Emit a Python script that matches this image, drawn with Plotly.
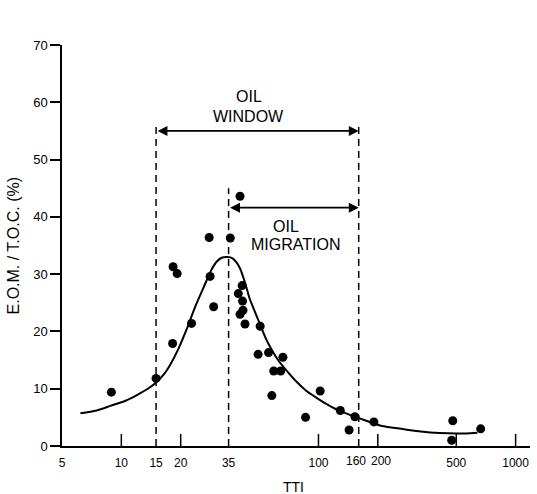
import math
import plotly.graph_objects as go

# ---- data ----
tti = [8.9, 15.0, 18.2, 18.3, 19.2, 22.7, 27.9, 28.2, 29.4, 35.7, 40.0, 41.0, 39.2,
       41.2, 41.4, 40.0, 42.4, 50.6, 49.4, 55.8, 59.3, 64.3, 66.0, 58.0, 102, 86,
       129, 153, 143, 191, 480, 474, 665]
eom_toc = [9.4, 11.8, 17.9, 31.3, 30.1, 21.4, 36.4, 29.6, 24.3, 36.3, 43.6, 28.0, 26.6,
           25.3, 23.7, 23.0, 21.3, 20.9, 16.0, 16.3, 13.1, 13.1, 15.5, 8.8, 9.6, 5.0,
           6.2, 5.1, 2.8, 4.2, 4.4, 1.0, 3.0]

curve_tti = [6.2, 7.5, 8.8, 10.5, 12.0, 13.5, 15.0, 16.5, 17.7, 19.5, 21.4, 23.5, 26.0,
             28.6, 30.5, 32.5, 34.7, 36.5, 38.3, 40.0, 41.4, 43.0, 44.7, 47.5, 50.2, 54,
             58.6, 63, 68.4, 77, 86.3, 97, 109, 125, 148, 175, 210, 250, 287, 340, 392,
             494, 560, 640]
curve_eom = [5.7, 6.2, 7.0, 7.9, 8.9, 9.9, 11.1, 12.6, 14.2, 17.0, 20.3, 24.0, 27.5,
             30.7, 32.2, 32.9, 33.0, 32.8, 32.1, 31.0, 29.6, 27.8, 25.8, 23.5, 21.5, 18.8,
             16.5, 14.8, 13.3, 11.3, 9.7, 8.5, 7.4, 6.3, 5.3, 4.4, 3.5, 3.1, 2.8, 2.5, 2.3,
             2.2, 2.2, 2.3]

x_tick_labels = [5, 10, 15, 20, 35, 100, 500, 1000]
x_tight_labels = [(160, -3), (200, 3)]   # crowded labels, nudged apart
x_tick_marks = [10, 20, 100, 200, 500, 1000]
y_ticks = [0, 10, 20, 30, 40, 50, 60, 70]

# boundaries (TTI) and their heights
window_start, window_end = 15, 160
migration_start = 35
window_line_top = 56.4
migration_line_top = 45.0
window_arrow_y = 55.0
migration_arrow_y = 41.6

FONT = "Liberation Sans, Arial, sans-serif"
TICKFONT = dict(family=FONT, size=12, color="black")

fig = go.Figure()

# dashed boundary lines
for xv, top in [(window_start, window_line_top), (window_end, window_line_top),
                (migration_start, migration_line_top)]:
    fig.add_trace(go.Scatter(x=[xv, xv], y=[0, top], mode="lines",
                             line=dict(color="black", width=1.5, dash="7px,5px"),
                             hoverinfo="skip", showlegend=False))

fig.add_trace(go.Scatter(x=curve_tti, y=curve_eom, mode="lines",
                         line=dict(color="black", width=2, shape="spline", smoothing=0.8),
                         showlegend=False))
fig.add_trace(go.Scatter(x=tti, y=eom_toc, mode="markers",
                         marker=dict(color="black", size=9), showlegend=False))

# inside tick marks on the x axis
for t in x_tick_marks:
    fig.add_shape(type="line", xref="x", yref="paper", x0=t, x1=t, y0=0, y1=12 / 401,
                  line=dict(color="black", width=1.5))

# crowded tick labels
for v, dx in x_tight_labels:
    fig.add_annotation(x=math.log10(v), y=0, xref="x", yref="paper", text=str(v),
                       showarrow=False, font=TICKFONT, xanchor="center", yanchor="top",
                       xshift=dx, yshift=-7, borderpad=0)

# arrows
for x0, x1, yv in [(window_start, window_end, window_arrow_y),
                   (migration_start, window_end, migration_arrow_y)]:
    fig.add_annotation(x=math.log10(x1), y=yv, ax=math.log10(x0), ay=yv,
                       xref="x", yref="y", axref="x", ayref="y", text="",
                       showarrow=True, arrowhead=2, arrowside="end+start",
                       arrowsize=1.1, arrowwidth=1.8, arrowcolor="black", standoff=0,
                       startstandoff=0)

labels = [("OIL", 44.3, 61.0), ("WINDOW", 44.3, 57.6),
          ("OIL", 68.8, 38.3), ("MIGRATION", 76.6, 35.1)]
for txt, xv, yv in labels:
    fig.add_annotation(x=math.log10(xv), y=yv, xref="x", yref="y", text=txt,
                       showarrow=False, font=dict(family=FONT, size=16, color="black"),
                       xanchor="center", yanchor="middle")

# axis titles
fig.add_annotation(x=-0.1026, y=0.5, xref="paper", yref="paper",
                   text="E.O.M. / T.O.C. (%)", textangle=-90, showarrow=False,
                   font=dict(family=FONT, size=16, color="black"),
                   xanchor="center", yanchor="middle")
fig.add_annotation(x=0.4936, y=-0.1022, xref="paper", yref="paper", text="TTI",
                   showarrow=False, font=dict(family=FONT, size=14, color="black"),
                   xanchor="center", yanchor="middle")

fig.update_layout(
    width=537, height=494,
    margin=dict(l=62, r=7, t=45, b=48),
    paper_bgcolor="white", plot_bgcolor="white",
    showlegend=False,
    xaxis=dict(type="log", range=[math.log10(5), 3.073],
               tickvals=x_tick_labels, ticktext=[str(v) for v in x_tick_labels],
               ticks="", showline=True, linecolor="black", linewidth=2, tickangle=0,
               showgrid=False, zeroline=False, ticklabelstandoff=5,
               tickfont=TICKFONT),
    yaxis=dict(range=[0, 70], tickvals=y_ticks, ticks="outside", ticklen=10,
               tickwidth=1.5, tickcolor="black",
               showline=True, linecolor="black", linewidth=1.5,
               showgrid=False, zeroline=False,
               tickfont=dict(family=FONT, size=13, color="black")),
)

fig.write_html("out.html")
